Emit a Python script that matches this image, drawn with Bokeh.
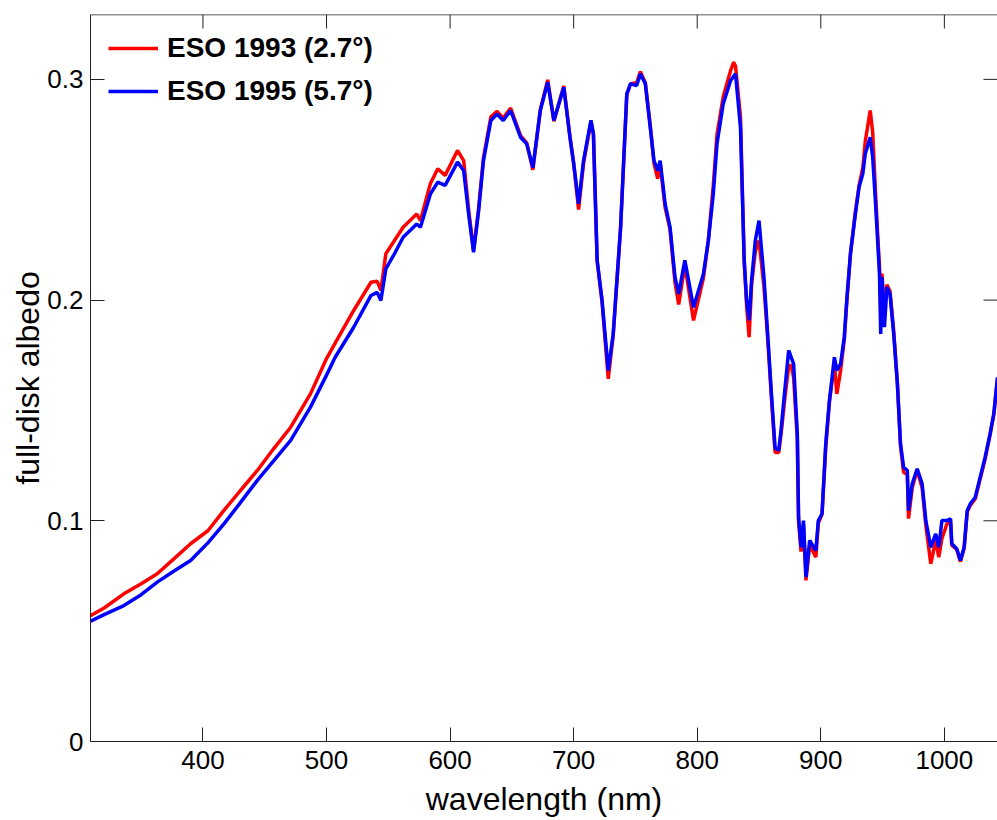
import math
from bokeh.plotting import figure
from bokeh.models import Range1d, FixedTicker, Legend, LegendItem, Span
from bokeh.embed import file_html
from bokeh.resources import INLINE

# ---- data ----
wl_1993 = [309, 320, 336, 350, 363, 376, 390, 404, 417, 430, 444, 457, 471, 487, 500, 507, 522, 536, 541, 544,
           548, 555, 562, 573, 576, 584, 590, 596, 606, 611, 615, 619, 623, 627, 633, 638, 643, 649, 657, 662,
           667, 673, 679, 684, 692, 697, 700, 704, 708, 714, 716, 719, 723, 728, 732, 738, 743, 746, 751, 754,
           758, 762, 765, 768, 770, 774, 778, 782, 785, 790, 797, 805, 809, 813, 816, 821, 827, 829.5, 831, 835,
           838, 840, 842, 844, 847, 850, 854, 857, 860, 863, 866, 868, 871, 874, 876, 878, 881, 882, 884, 886,
           888, 891, 896, 898, 901, 904, 907, 911, 913, 916, 919, 921, 924, 928, 931, 934, 936, 940, 942, 944,
           946, 947.5, 948.5, 949.5, 951.5, 953.5, 956, 959, 962, 964.5, 967, 970, 971, 974, 978, 982, 985, 989,
           993, 995.5, 998, 1002, 1005, 1006, 1010, 1013, 1016, 1018.5, 1021, 1025, 1029, 1033, 1037, 1040, 1043]
alb_1993 = [0.0570, 0.0605, 0.0669, 0.0715, 0.0760, 0.0825, 0.0896, 0.0955, 0.1047, 0.1135, 0.1228, 0.1325,
            0.1424, 0.1575, 0.1735, 0.1805, 0.1953, 0.2081, 0.2085, 0.2044, 0.2210, 0.2270, 0.2330, 0.2390,
            0.2360, 0.2527, 0.2595, 0.2565, 0.2678, 0.2632, 0.2410, 0.2225, 0.2410, 0.2645, 0.2830, 0.2855,
            0.2825, 0.2870, 0.2745, 0.2712, 0.2590, 0.2862, 0.2998, 0.2810, 0.2970, 0.2740, 0.2620, 0.2410,
            0.2620, 0.2810, 0.2750, 0.2180, 0.1990, 0.1643, 0.1840, 0.2330, 0.2930, 0.2980, 0.2985, 0.3035,
            0.2985, 0.2790, 0.2620, 0.2550, 0.2620, 0.2420, 0.2320, 0.2080, 0.1980, 0.2160, 0.1908, 0.2100,
            0.2270, 0.2520, 0.2750, 0.2920, 0.3040, 0.3078, 0.3060, 0.2830, 0.2180, 0.1970, 0.1832, 0.2070,
            0.2220, 0.2270, 0.2060, 0.1830, 0.1560, 0.1310, 0.1310, 0.1400, 0.1560, 0.1700, 0.1705, 0.1650,
            0.1370, 0.1000, 0.0860, 0.0980, 0.0730, 0.0890, 0.0835, 0.0990, 0.1030, 0.1330, 0.1540, 0.1710,
            0.1575, 0.1680, 0.1820, 0.1990, 0.2210, 0.2400, 0.2520, 0.2600, 0.2720, 0.2859, 0.2760, 0.2520,
            0.2300, 0.2150, 0.1960, 0.2120, 0.1950, 0.2070, 0.2040, 0.1860, 0.1620, 0.1340, 0.1220, 0.1210,
            0.1010, 0.1150, 0.1230, 0.1150, 0.0980, 0.0805, 0.0910, 0.0835, 0.0920, 0.0985, 0.1000, 0.0890,
            0.0870, 0.0815, 0.0875, 0.1040, 0.1070, 0.1100, 0.1190, 0.1280, 0.1390, 0.1480, 0.1645]

wl_1995 = [309, 320, 336, 350, 363, 376, 390, 404, 417, 430, 444, 457, 471, 487, 500, 507, 522, 536, 541, 544,
           548, 555, 562, 573, 576, 584, 590, 596, 606, 611, 615, 619, 623, 627, 633, 638, 643, 649, 657, 662,
           667, 673, 679, 684, 692, 697, 700, 704, 708, 714, 716, 719, 723, 728, 732, 738, 743, 746, 751, 754,
           758, 762, 765, 768, 770, 774, 778, 782, 785, 790, 797, 805, 809, 813, 816, 821, 827, 831, 835,
           838, 840, 842, 844, 847, 850, 854, 857, 860, 863, 866, 868, 871, 874, 878, 881, 882, 884, 886,
           888, 891, 896, 898, 901, 904, 907, 911, 913, 916, 919, 921, 924, 928, 931, 934, 936, 940, 942, 944,
           946, 947.5, 948.5, 949.5, 951.5, 953.5, 956, 959, 962, 964.5, 967, 970, 971, 974, 978, 982, 985, 989,
           993, 995.5, 998, 1002, 1005, 1006, 1010, 1013, 1016, 1018.5, 1021, 1025, 1029, 1033, 1037, 1040, 1043]
alb_1995 = [0.0545, 0.0575, 0.0616, 0.0665, 0.0722, 0.0770, 0.0820, 0.0900, 0.0986, 0.1080, 0.1183, 0.1270,
            0.1364, 0.1515, 0.1660, 0.1741, 0.1877, 0.2021, 0.2035, 0.1998, 0.2141, 0.2210, 0.2285, 0.2345,
            0.2330, 0.2480, 0.2534, 0.2520, 0.2625, 0.2587, 0.2390, 0.2217, 0.2400, 0.2632, 0.2814, 0.2843,
            0.2814, 0.2859, 0.2738, 0.2708, 0.2600, 0.2859, 0.2987, 0.2814, 0.2964, 0.2738, 0.2620, 0.2436,
            0.2632, 0.2814, 0.2753, 0.2180, 0.1998, 0.1681, 0.1847, 0.2330, 0.2934, 0.2980, 0.2972, 0.3025,
            0.2980, 0.2782, 0.2632, 0.2587, 0.2632, 0.2436, 0.2330, 0.2104, 0.2028, 0.2180, 0.1967, 0.2118,
            0.2270, 0.2480, 0.2708, 0.2889, 0.2995, 0.3025, 0.2782, 0.2180, 0.1998, 0.1908, 0.2089, 0.2270,
            0.2360, 0.2104, 0.1847, 0.1580, 0.1330, 0.1320, 0.1420, 0.1600, 0.1772, 0.1711, 0.1394, 0.1016,
            0.0880, 0.1001, 0.0745, 0.0911, 0.0865, 0.1001, 0.1032, 0.1349, 0.1545, 0.1741, 0.1681, 0.1711,
            0.1832, 0.1998, 0.2210, 0.2391, 0.2512, 0.2572, 0.2663, 0.2738, 0.2647, 0.2466, 0.2270, 0.2119,
            0.1847, 0.2104, 0.1877, 0.2059, 0.2029, 0.1847, 0.1620, 0.1349, 0.1243, 0.1228, 0.1047, 0.1168,
            0.1236, 0.1168, 0.1001, 0.0880, 0.0941, 0.0880, 0.1001, 0.1001, 0.1009, 0.0896, 0.0873, 0.0820,
            0.0880, 0.1047, 0.1077, 0.1107, 0.1198, 0.1288, 0.1394, 0.1485, 0.1650]

series_labels = ["ESO 1993 (2.7°)", "ESO 1995 (5.7°)"]
x_ticks = [400, 500, 600, 700, 800, 900, 1000]
x_tick_labels = ["400", "500", "600", "700", "800", "900", "1000"]
y_ticks = [0, 0.1, 0.2, 0.3]
y_tick_labels = ["0", "0.1", "0.2", "0.3"]
x_lim = (309, 1043)
y_lim = (0, 0.3294)

FONT = "Liberation Sans"
AXC = "#222222"

p = figure(width=997, height=820, x_range=Range1d(*x_lim), y_range=Range1d(*y_lim),
           output_backend="svg", toolbar_location=None,
           min_border_left=90, min_border_right=0, min_border_top=14, min_border_bottom=79,
           x_axis_label="wavelength (nm)", y_axis_label="full-disk albedo")
p.grid.visible = False
p.outline_line_color = None
p.background_fill_color = "white"
p.border_fill_color = "white"

r1 = p.line(wl_1993, alb_1993, line_color="#ff0000", line_width=3.5)
r2 = p.line(wl_1995, alb_1995, line_color="#0000ff", line_width=3.5)


def style(ax, ticks, labels):
    ax.ticker = FixedTicker(ticks=ticks)
    ax.major_label_overrides = {t: l for t, l in zip(ticks, labels)}
    ax.major_tick_in = 14
    ax.major_tick_out = 0
    ax.minor_tick_line_color = None
    ax.major_tick_line_color = AXC
    ax.axis_line_color = AXC
    ax.axis_line_width = 1
    ax.major_label_text_font = FONT
    ax.major_label_text_font_size = "26px"
    ax.major_label_text_color = "black"
    ax.axis_label_text_font = FONT
    ax.axis_label_text_font_size = "32px"
    ax.axis_label_text_font_style = "normal"
    ax.axis_label_text_color = "black"


style(p.xaxis[0], x_ticks, x_tick_labels)
p.xaxis[0].major_label_standoff = 9
p.xaxis[0].axis_label_standoff = 9
style(p.yaxis[0], y_ticks, y_tick_labels)
p.yaxis[0].major_label_standoff = 7
p.yaxis[0].axis_label_standoff = -2

# top border line and inward ticks on top / right edges (box style)
p.add_layout(Span(location=y_lim[1], dimension="width", line_color=AXC, line_width=1.5))
p.ray(x=x_ticks, y=[y_lim[1]] * len(x_ticks), length=14, length_units="screen",
      angle=-math.pi / 2, line_color=AXC, line_width=1)
p.ray(x=[x_lim[1]] * len(y_ticks), y=y_ticks, length=14, length_units="screen",
      angle=math.pi, line_color=AXC, line_width=1)

legend = Legend(items=[LegendItem(label=series_labels[0], renderers=[r1]),
                       LegendItem(label=series_labels[1], renderers=[r2])],
                location="top_left")
legend.label_text_font = FONT
legend.label_text_font_size = "28px"
legend.label_text_font_style = "bold"
legend.label_text_color = "black"
legend.glyph_width = 50
legend.glyph_height = 30
legend.label_height = 30
legend.label_standoff = 9
legend.spacing = 11
legend.margin = 18
legend.padding = 7
legend.border_line_color = None
legend.background_fill_alpha = 0
p.add_layout(legend)

open("out.html", "w").write(file_html(p, INLINE))
